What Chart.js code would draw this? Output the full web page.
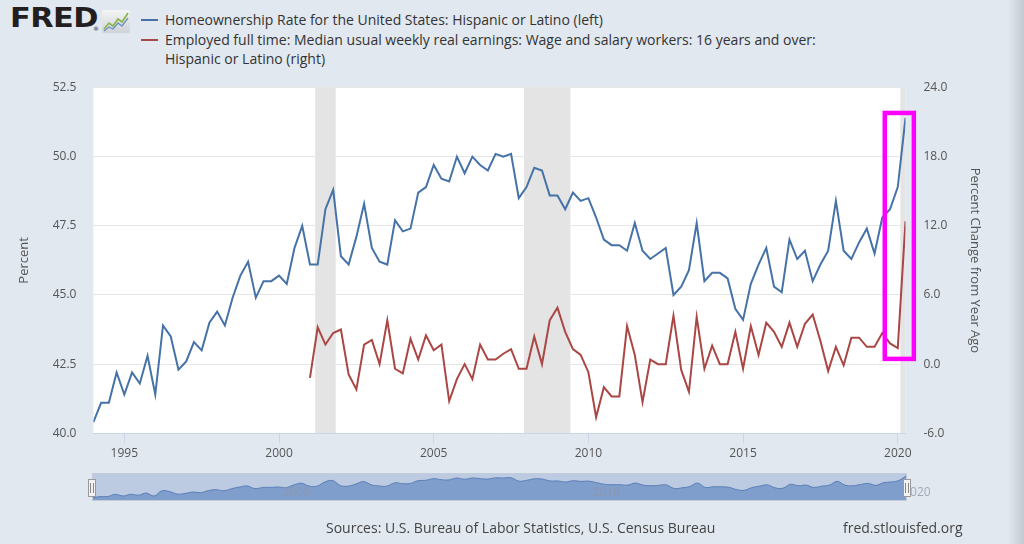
<!DOCTYPE html>
<html>
<head>
<meta charset="utf-8">
<script src="https://cdn.jsdelivr.net/npm/chart.js@4.4.1/dist/chart.umd.min.js"></script>
<style>
html,body{margin:0;padding:0;width:1024px;height:544px;overflow:hidden;background:#e1e8f0;font-family:"Open Sans",sans-serif;}
#main{position:absolute;left:0;top:0;}
#nav{position:absolute;left:0;top:466px;}
#logo{position:absolute;left:10px;top:3px;font-family:"DejaVu Sans",sans-serif;font-weight:bold;font-size:26px;color:#231f20;letter-spacing:-0.5px;transform:scaleX(1.17);transform-origin:left top;}
#reg{position:absolute;left:93px;top:25px;font-size:6px;color:#231f20;font-family:"DejaVu Sans",sans-serif;}
#icon{position:absolute;left:102px;top:10px;}
#legend{position:absolute;left:141px;top:10px;font-size:14px;line-height:19.5px;color:#333;}
.item{position:relative;padding-left:24px;white-space:nowrap;}
.sw{position:absolute;left:0;top:9px;width:17px;height:2px;}
#src{position:absolute;left:326px;top:518px;font-size:14px;color:#444;white-space:nowrap;}
#site{position:absolute;left:843px;top:518px;font-size:14px;color:#444;white-space:nowrap;}
#edge{position:absolute;right:0;top:0;width:16px;height:544px;background:linear-gradient(to right,rgba(0,0,0,0),rgba(0,0,0,0.13));}
</style>
</head>
<body>
<div id="logo">FRED</div><div id="reg">®</div>
<svg id="icon" width="28" height="23" viewBox="0 0 28 23">
  <defs><linearGradient id="g" x1="0" y1="0" x2="0" y2="1"><stop offset="0" stop-color="#f4f4f4"/><stop offset="1" stop-color="#cfd3d6"/></linearGradient></defs>
  <rect x="0" y="0" width="28" height="23" rx="2" fill="url(#g)"/>
  <polyline points="2,19 7,13 11,16 16,9 20,12 26,3" fill="none" stroke="#8ab548" stroke-width="1.6"/>
  <polyline points="2,21 7,17 11,19 16,13 20,16 26,8" fill="none" stroke="#6a8fc0" stroke-width="1.3"/>
</svg>
<div id="legend">
  <div class="item"><span class="sw" style="background:#4572a7"></span>Homeownership Rate for the United States: Hispanic or Latino (left)</div>
  <div class="item"><span class="sw" style="background:#aa4643"></span>Employed full time: Median usual weekly real earnings: Wage and salary workers: 16 years and over:<br>Hispanic or Latino (right)</div>
</div>
<canvas id="main" width="1024" height="544"></canvas>
<canvas id="nav" width="1024" height="40"></canvas>
<div id="src">Sources: U.S. Bureau of Labor Statistics, U.S. Census Bureau</div>
<div id="site">fred.stlouisfed.org</div>
<div id="edge"></div>
<script>
// ---- data (quarterly) ----
const homeownershipStart = 1994; // 1994 Q1
const homeownership = [
  40.4, 41.1, 41.1, 42.2,   // 1994
  41.4, 42.2, 41.8, 42.8,   // 1995
  41.4, 43.9, 43.5, 42.3,   // 1996
  42.6, 43.3, 43.0, 44.0,   // 1997
  44.4, 43.9, 44.9, 45.7,   // 1998
  46.2, 44.9, 45.5, 45.5,   // 1999
  45.7, 45.4, 46.7, 47.5,   // 2000
  46.1, 46.1, 48.1, 48.8,   // 2001
  46.4, 46.1, 47.1, 48.3,   // 2002
  46.7, 46.2, 46.1, 47.7,   // 2003
  47.3, 47.4, 48.7, 48.9,   // 2004
  49.7, 49.2, 49.1, 50.0,   // 2005
  49.4, 50.0, 49.7, 49.5,   // 2006
  50.1, 50.0, 50.1, 48.5,   // 2007
  48.9, 49.6, 49.5, 48.6,   // 2008
  48.6, 48.1, 48.7, 48.4,   // 2009
  48.5, 47.8, 47.0, 46.8,   // 2010
  46.8, 46.6, 47.6, 46.6,   // 2011
  46.3, 46.5, 46.7, 45.0,   // 2012
  45.3, 45.9, 47.6, 45.5,   // 2013
  45.8, 45.8, 45.6, 44.5,   // 2014
  44.1, 45.4, 46.1, 46.7,   // 2015
  45.3, 45.1, 47.0, 46.3,   // 2016
  46.6, 45.5, 46.1, 46.6,   // 2017
  48.4, 46.6, 46.3, 46.9,   // 2018
  47.4, 46.5, 47.8, 48.1,   // 2019
  48.9, 51.4                // 2020
];
const earningsStart = 2001; // 2001 Q1
const earningsChange = [
  -1.2, 3.2, 1.7, 2.7,      // 2001
  3.0, -0.9, -2.2, 1.7,     // 2002
  2.1, 0.0, 3.8, -0.4,      // 2003
  -0.8, 2.2, 0.4, 2.5,      // 2004
  1.2, 1.7, -3.2, -1.3,     // 2005
  0.0, -1.3, 1.7, 0.4,      // 2006
  0.4, 0.9, 1.3, -0.4,      // 2007
  -0.4, 2.4, 0.0, 3.8,      // 2008
  4.9, 2.8, 1.3, 0.8,       // 2009
  -0.7, -4.6, -2.0, -2.8,   // 2010
  -2.8, 3.3, 0.8, -3.3,     // 2011
  0.4, 0.0, 0.0, 4.2,       // 2012
  -0.5, -2.4, 4.1, -0.4,    // 2013
  1.6, 0.0, 0.0, 2.8,       // 2014
  -0.4, 3.3, 0.8, 3.6,      // 2015
  2.8, 1.5, 3.6, 1.5,       // 2016
  3.5, 4.3, 2.0, -0.6,      // 2017
  1.5, -0.1, 2.3, 2.3,      // 2018
  1.5, 1.5, 2.7, 1.8,       // 2019
  1.4, 12.4                 // 2020
];
const xTickYears = [1995, 2000, 2005, 2010, 2015, 2020];
const navTickYears = [2000, 2010, 2020];
const leftTicks = [40, 42.5, 45, 47.5, 50, 52.5];
const rightTicks = [-6, 0, 6, 12, 18, 24];
const recessionStarts = [2001.167, 2007.917, 2020.083];
const recessionEnds   = [2001.833, 2009.417, 2020.25];
const highlightYears = [2019.58, 2020.52];
const highlightLevels = [42.69, 51.58];

const toPoints = (start, arr) => arr.map((v, i) => ({x: start + i / 4, y: v}));
const blueColor = '#4572a7', redColor = '#aa4643';
const xMin = homeownershipStart, xMax = homeownershipStart + (homeownership.length - 1) / 4;
const tickFont = {family: '"Open Sans", sans-serif', size: 12};

const plotBg = {
  id: 'plotBg',
  beforeDraw(chart) {
    const {ctx, chartArea: a, scales: {x}} = chart;
    ctx.save();
    ctx.fillStyle = '#ffffff';
    ctx.fillRect(a.left, a.top, a.right - a.left, a.bottom - a.top);
    ctx.fillStyle = '#e4e4e4';
    recessionStarts.forEach((s, i) => {
      const x0 = Math.max(a.left, x.getPixelForValue(s));
      const x1 = Math.min(a.right, x.getPixelForValue(recessionEnds[i]));
      ctx.fillRect(x0, a.top, x1 - x0, a.bottom - a.top);
    });
    ctx.restore();
  }
};
const highlight = {
  id: 'highlight',
  afterDraw(chart) {
    const {ctx, scales: {x, yL}} = chart;
    const x0 = x.getPixelForValue(highlightYears[0]), x1 = x.getPixelForValue(highlightYears[1]);
    const y0 = yL.getPixelForValue(highlightLevels[1]), y1 = yL.getPixelForValue(highlightLevels[0]);
    ctx.save();
    ctx.strokeStyle = '#ff00ff';
    ctx.lineWidth = 4.5;
    ctx.strokeRect(x0, y0, x1 - x0, y1 - y0);
    ctx.restore();
  }
};

new Chart(document.getElementById('main'), {
  type: 'line',
  data: {
    datasets: [
      {label: 'Homeownership Rate for the United States: Hispanic or Latino (left)', data: toPoints(homeownershipStart, homeownership), yAxisID: 'yL', borderColor: blueColor, borderWidth: 2, pointRadius: 0, tension: 0, fill: false},
      {label: 'Employed full time: Median usual weekly real earnings (right)', data: toPoints(earningsStart, earningsChange), yAxisID: 'yR', borderColor: redColor, borderWidth: 2, pointRadius: 0, tension: 0, fill: false}
    ]
  },
  options: {
    responsive: false, animation: false, devicePixelRatio: 1,
    layout: {padding: {top: 87.5, left: 0, right: 0, bottom: 0}},
    plugins: {legend: {display: false}, tooltip: {enabled: false}},
    scales: {
      x: {
        type: 'linear', min: xMin, max: xMax,
        afterBuildTicks: s => { s.ticks = xTickYears.map(v => ({value: v})); },
        afterFit: s => { s.height = 544 - 433.3; },
        ticks: {callback: v => String(v), color: '#555', font: tickFont, padding: 3, maxRotation: 0, autoSkip: false},
        grid: {drawOnChartArea: false, drawTicks: true, tickLength: 10, color: '#ccd6eb'},
        border: {display: true, color: '#ccd6eb'}
      },
      yL: {
        position: 'left', min: 40, max: 52.5,
        afterBuildTicks: s => { s.ticks = leftTicks.map(v => ({value: v})); },
        afterFit: s => { s.width = 93.4; },
        ticks: {callback: v => v.toFixed(1), color: '#555', font: tickFont, padding: 17},
        grid: {color: '#e6e6e6', drawTicks: false},
        border: {display: false},
        title: {display: true, text: 'Percent', color: '#555', font: {family: '"Open Sans", sans-serif', size: 13}, padding: {top: 16, bottom: 0}}
      },
      yR: {
        position: 'right', min: -6, max: 24,
        afterBuildTicks: s => { s.ticks = rightTicks.map(v => ({value: v})); },
        afterFit: s => { s.width = 1024 - 905.5; },
        ticks: {callback: v => v.toFixed(1), color: '#555', font: tickFont, padding: 18},
        grid: {drawOnChartArea: false, drawTicks: false},
        border: {display: false},
        title: {display: true, text: 'Percent Change from Year Ago', color: '#555', font: {family: '"Open Sans", sans-serif', size: 13}, padding: {top: 41, bottom: 0}}
      }
    }
  },
  plugins: [plotBg, highlight]
});

// ---- navigator ----
const navDeco = {
  id: 'navDeco',
  beforeDraw(chart) {
    const {ctx, chartArea: a} = chart;
    ctx.save();
    ctx.fillStyle = '#bccbe2';
    ctx.fillRect(a.left, a.top, a.right - a.left, a.bottom - a.top);
    ctx.restore();
  },
  afterDraw(chart) {
    const {ctx, chartArea: a, scales: {x}} = chart;
    ctx.save();
    ctx.strokeStyle = '#c3ccd8';
    ctx.lineWidth = 1;
    ctx.strokeRect(a.left + 0.5, a.top + 0.5, a.right - a.left - 1, a.bottom - a.top - 1);
    ctx.fillStyle = 'rgba(140,150,165,0.75)';
    ctx.font = '12px "Open Sans", sans-serif';
    ctx.textBaseline = 'middle';
    navTickYears.forEach(v => ctx.fillText(String(v), x.getPixelForValue(v) + 4, (a.top + a.bottom) / 2 + 6));
    const cy = (a.top + a.bottom) / 2 + 1;
    [a.left, a.right].forEach(hx => {
      ctx.fillStyle = '#f2f2f2';
      ctx.strokeStyle = '#999';
      ctx.fillRect(hx - 4, cy - 9, 8, 18);
      ctx.strokeRect(hx - 3.5, cy - 8.5, 7, 17);
      ctx.beginPath();
      ctx.moveTo(hx - 1.5, cy - 5); ctx.lineTo(hx - 1.5, cy + 5);
      ctx.moveTo(hx + 1.5, cy - 5); ctx.lineTo(hx + 1.5, cy + 5);
      ctx.strokeStyle = '#888';
      ctx.stroke();
    });
    ctx.restore();
  }
};
new Chart(document.getElementById('nav'), {
  type: 'line',
  data: {datasets: [{data: toPoints(homeownershipStart, homeownership), borderColor: '#5a7fb9', borderWidth: 1, backgroundColor: '#809ecb', fill: 'start', pointRadius: 0, tension: 0.4}]},
  options: {
    responsive: false, animation: false, devicePixelRatio: 1,
    layout: {padding: {left: 92, right: 1024 - 907, top: 7, bottom: 5}},
    plugins: {legend: {display: false}, tooltip: {enabled: false}},
    scales: {
      x: {type: 'linear', min: xMin, max: xMax, display: false},
      y: {min: 39, max: 52.4, display: false}
    }
  },
  plugins: [navDeco]
});
</script>
</body>
</html>
